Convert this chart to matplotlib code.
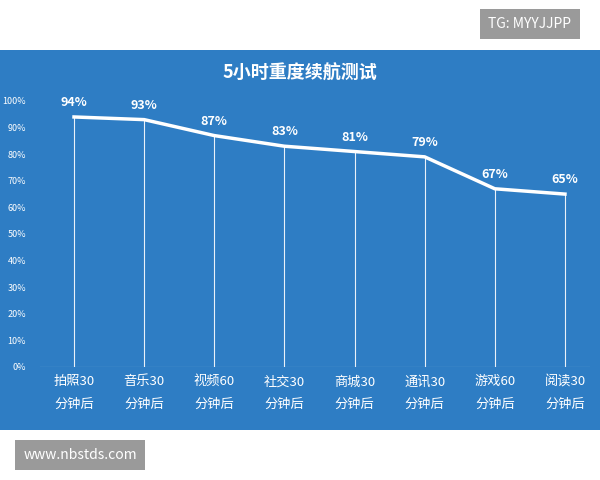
import matplotlib
matplotlib.use("Agg")
import matplotlib.pyplot as plt
from matplotlib.patches import Rectangle

plt.rcParams['font.family'] = ['Noto Sans CJK SC', 'DejaVu Sans']

categories = ["拍照30\n分钟后", "音乐30\n分钟后", "视频60\n分钟后", "社交30\n分钟后",
              "商城30\n分钟后", "通讯30\n分钟后", "游戏60\n分钟后", "阅读30\n分钟后"]
values = [94, 93, 87, 83, 81, 79, 67, 65]
yticks = list(range(0, 101, 10))
title = "5小时重度续航测试"

blue = "#2e7dc4"
fig = plt.figure(figsize=(6, 4.8), dpi=100)
fig.patch.set_facecolor("white")
fig.add_artist(Rectangle((0, 1 - 430/480), 1, 380/480, transform=fig.transFigure,
                         facecolor=blue, edgecolor="none", zorder=0))
ax = fig.add_axes([40/600, 1 - 367/480, 550/600, 266/480])
ax.set_facecolor("none")
x = list(range(len(values)))
ax.plot(x, values, color="white", lw=2.5, zorder=3)
ax.vlines(x, 0, values, color="white", lw=0.8, alpha=0.9)
ax.axhline(0, color="white", lw=0.8, alpha=0.6)
for xi, v in zip(x, values):
    ax.text(xi, v + 3, f"{v}%", color="white", ha="center", va="bottom",
            fontsize=9, fontweight="bold")
ax.set_xlim(-0.485, 7.357)
ax.set_ylim(0, 100)
ax.set_yticks(yticks)
ax.set_yticklabels([f"{t}%" for t in yticks], color="white", fontsize=6.5)
ax.set_xticks(x)
ax.set_xticklabels(categories, color="white", fontsize=9.5, linespacing=1.9)
ax.tick_params(length=0, pad=6)
ax.tick_params(axis="y", pad=10)
for s in ax.spines.values():
    s.set_visible(False)
fig.text(0.5, 1 - 73/480, title, color="white", ha="center", va="center",
         fontsize=13, fontweight="bold")
fig.text(530/600, 1 - 24/480, "TG: MYYJJPP", color="white", ha="center", va="center",
         fontsize=10, bbox=dict(facecolor="#9a9a9a", edgecolor="none", pad=6))
fig.text(80/600, 1 - 455/480, "www.nbstds.com", color="white", ha="center", va="center",
         fontsize=10, bbox=dict(facecolor="#9a9a9a", edgecolor="none", pad=6))
fig.savefig("out.png", dpi=100)
